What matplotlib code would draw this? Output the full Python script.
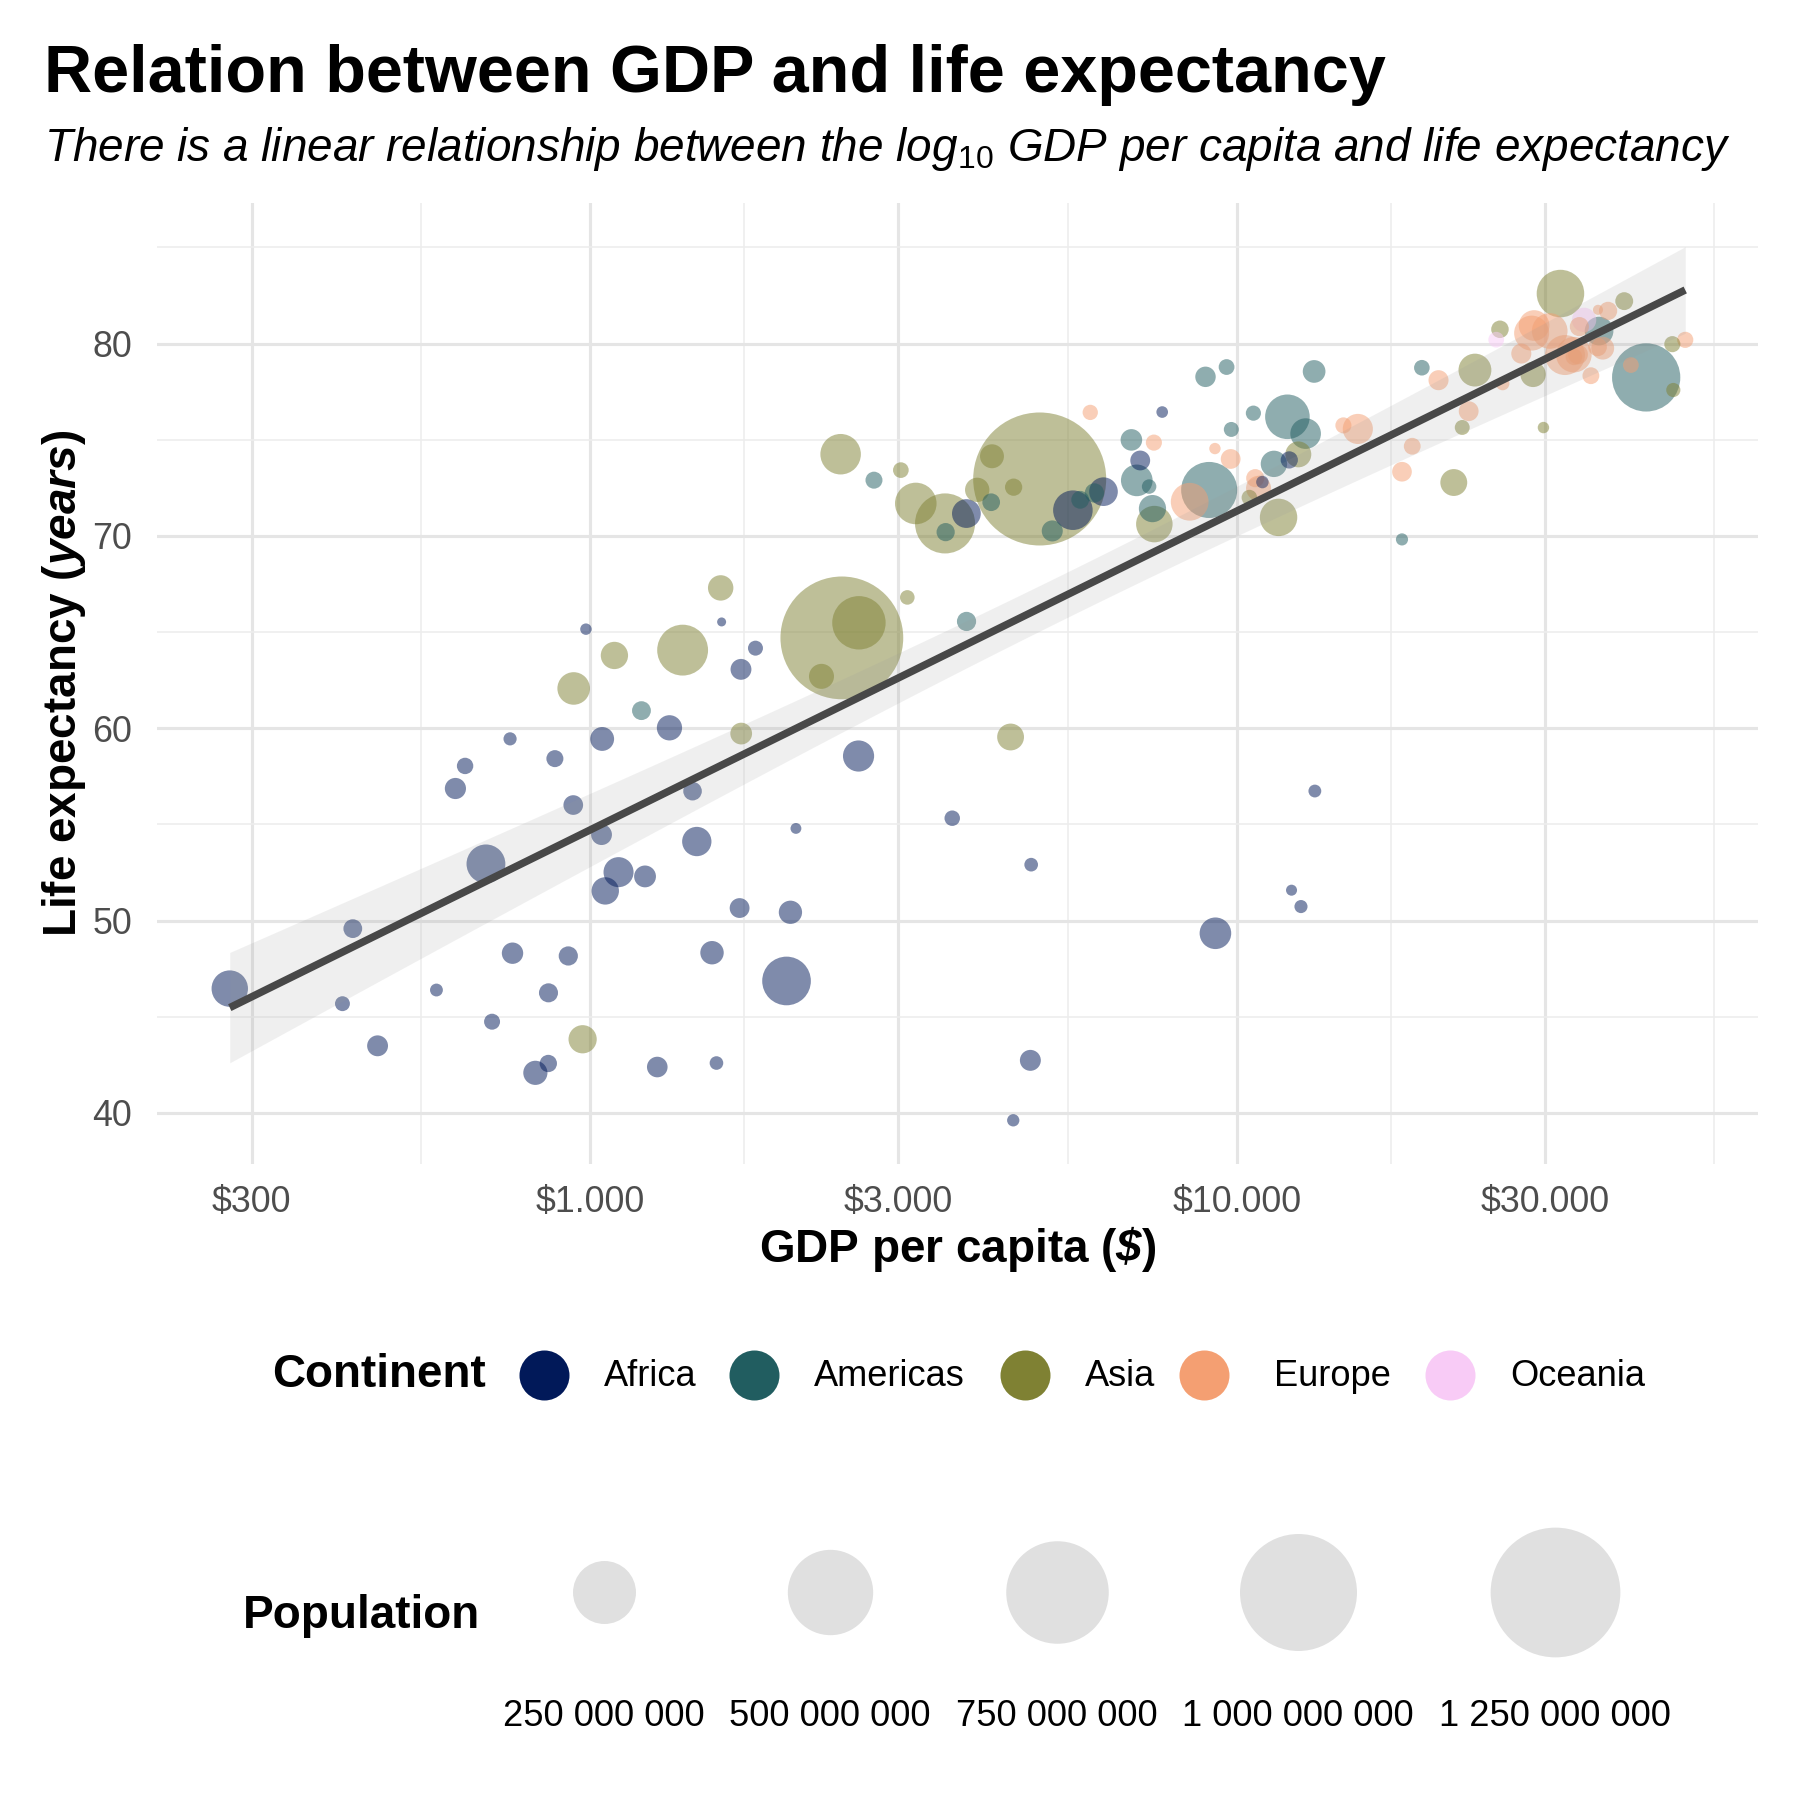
import numpy as np
import matplotlib
matplotlib.use("Agg")
import matplotlib.pyplot as plt

plt.rcParams['font.family'] = ['Liberation Sans', 'DejaVu Sans']
plt.rcParams['mathtext.fontset'] = 'custom'
plt.rcParams['mathtext.rm'] = 'Liberation Sans'
plt.rcParams['mathtext.it'] = 'Liberation Sans:italic'
plt.rcParams['mathtext.bf'] = 'Liberation Sans:bold'
plt.rcParams['mathtext.bfit'] = 'Liberation Sans:bold:italic'

# ---------------- data (gapminder, 2007) ----------------
continents = ["Africa", "Americas", "Asia", "Europe", "Oceania"]
continent_colors = ["#011959", "#215D60", "#7F8133", "#F49F72", "#F8CBF6"]

africa_life = [72.301, 42.731, 56.728, 50.728, 52.295, 49.580, 50.430, 44.741, 50.651, 65.152,
               46.462, 55.322, 48.328, 54.791, 71.338, 51.579, 58.040, 52.947, 56.735, 59.448,
               60.022, 56.007, 46.388, 54.110, 42.592, 45.678, 73.952, 59.443, 48.303, 54.467,
               64.164, 72.801, 71.164, 42.082, 52.906, 56.867, 46.859, 76.442, 46.242, 65.528,
               63.062, 42.568, 48.159, 49.339, 58.556, 39.613, 52.517, 58.420, 73.923, 51.542,
               42.384, 43.487]
africa_pop = [33333216, 12420476, 8078314, 1639131, 14326203, 8390505, 17696293, 4369038, 10238807, 710960,
              64606759, 3800610, 18013409, 496374, 80264543, 551201, 4906585, 76511887, 1454867, 1688359,
              22873338, 9947814, 1472041, 35610177, 2012649, 3193942, 6036914, 19167654, 13327079, 12031795,
              3270065, 1250882, 33757175, 19951656, 2055080, 12894865, 135031164, 798094, 8860588, 199579,
              12267493, 6144562, 9118773, 43997828, 42292929, 1133066, 38139640, 5701579, 10276158, 29170398,
              11746035, 12311143]
africa_gdp = [6223.367, 4797.231, 1441.285, 12569.85, 1217.033, 430.0707, 2042.095, 706.0165, 1704.064, 986.1479,
              277.5519, 3632.558, 1544.750, 2082.482, 5581.181, 12154.09, 641.3695, 690.8056, 13206.48, 752.7497,
              1327.609, 942.6542, 579.2317, 1463.249, 1569.331, 414.5073, 12057.50, 1044.770, 759.3499, 1042.582,
              1803.151, 10956.99, 3820.175, 823.6856, 4811.060, 619.6769, 2013.977, 7670.123, 863.0885, 1598.435,
              1712.473, 862.5408, 926.1411, 9269.658, 2602.395, 4513.481, 1107.482, 882.9699, 7092.923, 1056.380,
              1271.212, 469.7093]

americas_life = [75.320, 65.554, 72.390, 80.653, 78.553, 72.889, 78.782, 78.273, 72.235, 74.994,
                 71.878, 70.259, 60.916, 70.198, 72.567, 76.195, 72.899, 75.537, 71.752, 71.421,
                 78.746, 69.819, 78.242, 76.384, 73.747]
americas_pop = [40301927, 9119152, 190010647, 33390141, 16284741, 44227550, 4133884, 11416987, 9319622, 13755680,
                6939688, 12572928, 8502814, 7483763, 2780132, 108700891, 5675356, 3242173, 6667147, 28674757,
                3942491, 1056608, 301139947, 3447496, 26084662]
americas_gdp = [12779.38, 3822.137, 9065.801, 36319.24, 13171.64, 7006.580, 9645.061, 8948.103, 6025.375, 6873.262,
                5728.354, 5186.050, 1201.637, 3548.331, 7320.880, 11977.57, 2749.321, 9809.186, 4172.838, 7408.906,
                19328.71, 18008.51, 42951.65, 10611.46, 11415.81]

asia_life = [43.828, 75.635, 64.062, 59.723, 72.961, 82.208, 64.698, 70.650, 70.964, 59.545,
             80.745, 82.603, 72.535, 67.297, 78.623, 77.588, 71.993, 74.241, 66.803, 62.069,
             63.785, 75.640, 65.483, 71.688, 72.777, 79.972, 72.396, 74.143, 78.400, 70.616,
             74.249, 73.422, 62.698]
asia_pop = [31889923, 708573, 150448339, 14131858, 1318683096, 6980412, 1110396331, 223547000, 69453570, 27499638,
            6426679, 127467972, 6053193, 23301725, 49044790, 2505559, 3921278, 24821286, 2874127, 47761980,
            28901790, 3204897, 169270617, 91077287, 27601038, 4553009, 20378239, 19314747, 23174294, 65068149,
            85262356, 4018332, 22211743]
asia_gdp = [974.5803, 29796.05, 1391.254, 1713.779, 4959.115, 39724.98, 2452.210, 3540.652, 11605.71, 4471.062,
            25523.28, 31656.07, 4519.461, 1593.065, 23348.14, 47306.99, 10461.06, 12451.66, 3095.772, 944.0000,
            1091.360, 22316.19, 2605.948, 3190.481, 21654.83, 47143.18, 3970.095, 4184.548, 28718.28, 7458.396,
            2441.577, 3025.350, 2280.770]

europe_life = [76.423, 79.829, 79.441, 74.852, 73.005, 75.748, 76.486, 78.332, 79.313, 80.657,
               79.406, 79.483, 73.338, 81.757, 78.885, 80.546, 74.543, 79.762, 80.196, 75.563,
               78.098, 72.476, 74.002, 74.663, 77.926, 80.941, 80.884, 81.701, 71.777, 79.425]
europe_pop = [3600523, 8199783, 10392226, 4552198, 7322858, 4493312, 10228744, 5468120, 5238460, 61083916,
              82400996, 10706290, 9956108, 301931, 4109086, 58147733, 684736, 16570613, 4627926, 38518241,
              10642836, 22276056, 10150265, 5447502, 2009245, 40448191, 9031088, 7554661, 71158647, 60776238]
europe_gdp = [5937.030, 36126.49, 33692.61, 7446.299, 10680.79, 14619.22, 22833.31, 35278.42, 33207.08, 30470.02,
              32170.37, 27538.41, 18008.94, 36180.79, 40676.00, 28569.72, 9253.896, 36797.93, 49357.19, 15389.92,
              20509.65, 10808.48, 9786.535, 18678.31, 25768.26, 28821.06, 33859.75, 37506.42, 8458.276, 33203.26]

oceania_life = [81.235, 80.204]
oceania_pop = [20434176, 4115771]
oceania_gdp = [34435.37, 25185.01]

x_breaks = [300, 1000, 3000, 10000, 30000]
x_labels = ["$300", "$1.000", "$3.000", "$10.000", "$30.000"]
y_breaks = [40, 50, 60, 70, 80]
pop_breaks = [250e6, 500e6, 750e6, 1000e6, 1250e6]
pop_labels = ["250 000 000", "500 000 000", "750 000 000", "1 000 000 000", "1 250 000 000"]

# ---------------- assemble ----------------
groups = [(africa_life, africa_pop, africa_gdp), (americas_life, americas_pop, americas_gdp),
          (asia_life, asia_pop, asia_gdp), (europe_life, europe_pop, europe_gdp),
          (oceania_life, oceania_pop, oceania_gdp)]
life, pop, gdp, col = [], [], [], []
for (l, p, g), c in zip(groups, continent_colors):
    assert len(l) == len(p) == len(g)
    life += l; pop += p; gdp += g; col += [c] * len(l)
life = np.array(life); pop = np.array(pop, dtype=float); gdp = np.array(gdp); col = np.array(col)
order = np.argsort(-pop)

DPI = 300
PX2PT = 72.0 / DPI
pmin, pmax = pop.min(), pop.max()


def diam_px(p):
    return 9 + 124 * np.sqrt((np.asarray(p) - pmin) / (pmax - pmin))


def marker_area(p):
    return (diam_px(p) * PX2PT) ** 2


# regression in log10 space
lx = np.log10(gdp)
n = len(lx)
b1, b0 = np.polyfit(lx, life, 1)
resid = life - (b0 + b1 * lx)
s_err = np.sqrt(np.sum(resid ** 2) / (n - 2))
sxx = np.sum((lx - lx.mean()) ** 2)
xs = np.linspace(lx.min(), lx.max(), 80)
ys = b0 + b1 * xs
se = s_err * np.sqrt(1.0 / n + (xs - lx.mean()) ** 2 / sxx)
tval = 1.977
lo, hi = ys - tval * se, ys + tval * se

# ---------------- figure ----------------
fig = plt.figure(figsize=(6, 6), dpi=DPI)
W = H = 1800.0
L, R, T, B = 157, 1758, 203, 1164
ax = fig.add_axes([L / W, 1 - B / H, (R - L) / W, (B - T) / H])
ax.set_xscale('log')

ax.scatter(gdp[order], life[order], s=marker_area(pop[order]), c=col[order],
           alpha=0.5, linewidths=0, zorder=2)
ax.fill_between(10 ** xs, lo, hi, color='#999999', alpha=0.15, linewidth=0, zorder=3)
ax.plot(10 ** xs, ys, color='#484848', lw=1.8, zorder=4, solid_capstyle='butt')

ax.set_xticks(x_breaks)
ax.set_xticklabels(x_labels)
ext = [100] + x_breaks + [100000]
ax.set_xticks([np.sqrt(a * b) for a, b in zip(ext[:-1], ext[1:])], minor=True)
ax.xaxis.set_minor_formatter(matplotlib.ticker.NullFormatter())
ax.set_yticks(y_breaks)
ax.set_yticks([b + 5 for b in [30] + y_breaks], minor=True)

# limits set after ticks (5 % expansion like ggplot)
xr = lx.max() - lx.min()
ax.set_xlim(10 ** (lx.min() - 0.05 * xr), 10 ** (lx.max() + 0.05 * xr))
ymin = min(life.min(), lo.min()); ymax = max(life.max(), hi.max())
yr = ymax - ymin
ax.set_ylim(ymin - 0.05 * yr, ymax + 0.05 * yr)

ax.grid(which='major', color='#E5E5E5', lw=0.75, zorder=0)
ax.grid(which='minor', color='#EDEDED', lw=0.4, zorder=0)
ax.set_axisbelow(True)
for sp in ax.spines.values():
    sp.set_visible(False)
ax.tick_params(which='both', length=0, labelsize=8.6, labelcolor='#4D4D4D')
ax.tick_params(axis='x', pad=5)
ax.tick_params(axis='y', pad=6)

ax.set_xlabel(r"GDP per capita ($\mathbfit{\$}$)", fontsize=11, fontweight='bold', labelpad=1)
ax.set_ylabel(r"Life expectancy ($\mathbfit{years}$)", fontsize=11, fontweight='bold', labelpad=1)

fig.text(44 / W, 1 - 92 / H, "Relation between GDP and life expectancy",
         fontsize=16, fontweight='bold', va='baseline', ha='left')
fig.text(44 / W, 1 - 161 / H,
         r"There is a linear relationship between the log$_{\mathit{10}}$ GDP per capita and life expectancy",
         fontsize=11, style='italic', va='baseline', ha='left')

# ---------------- legends ----------------
lax = fig.add_axes([0, 0, 1, 1], zorder=-1)
lax.set_xlim(0, W); lax.set_ylim(H, 0); lax.axis('off')

cy = 1375
lax.text(272, cy, "Continent", fontsize=11, fontweight='bold', va='center', ha='left')
key_x = [544, 754, 1025, 1204, 1450]
lab_x = [604, 814, 1085, 1274, 1510]
for kx, tx, name, c in zip(key_x, lab_x, continents, continent_colors):
    lax.scatter([kx], [cy], s=(50 * PX2PT) ** 2, color=c, linewidths=0)
    lax.text(tx, cy + 2, name, fontsize=8.7, va='center', ha='left')

py = 1592
lax.text(243, 1616, "Population", fontsize=11, fontweight='bold', va='center', ha='left')
pkey_x = [604, 830, 1057, 1298, 1555]
for kx, b, lab in zip(pkey_x, pop_breaks, pop_labels):
    lax.scatter([kx], [py], s=marker_area(b), color='#E0E0E0', linewidths=0)
    lax.text(kx, 1716, lab, fontsize=8.7, va='center', ha='center')

fig.savefig("out.png", dpi=DPI)
